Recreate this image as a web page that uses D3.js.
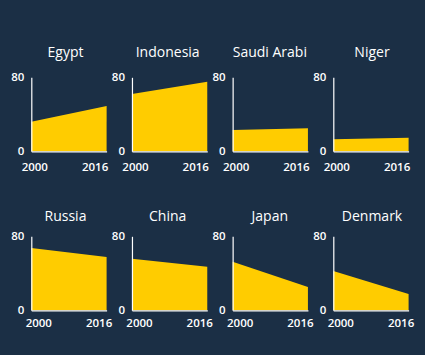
<!DOCTYPE html>
<html><head><meta charset="utf-8">
<script src="https://cdn.jsdelivr.net/npm/d3@7"></script>
<style>
html,body{margin:0;padding:0;background:#1b2f45;}
svg{display:block;}
</style></head>
<body>
<script>
const countries = ["Egypt","Indonesia","Saudi Arabi","Niger","Russia","China","Japan","Denmark"];
const years = [2000, 2016];
const values2000 = [32, 62, 23, 13, 67.3, 55.8, 52.6, 42.5];
const values2016 = [49, 75.3, 24.9, 14.7, 57.6, 47.2, 25.2, 17.6];
const yTicks = [0, 80];

const W = 425, H = 355;
const svg = d3.select("body").append("svg").attr("width", W).attr("height", H);
svg.append("rect").attr("width", W).attr("height", H).attr("fill", "#1b2f45");

const pw = 75.3, ph = 74;
const colX = d3.scaleLinear().domain([0, 3]).range([31.3, 333.3]);
const rowTop = [77.3, 236.3];
const titleX = d3.scaleLinear().domain([0, 3]).range([65.5, 372]);
const titleGap = [20, 15.6];
const xLabelDy = [20, 16.3];
const xLabelShift = [[3, -12], [7, -8]];

countries.forEach((name, i) => {
  const col = i % 4, row = Math.floor(i / 4);
  const g = svg.append("g").attr("transform", `translate(${colX(col)},${rowTop[row]})`);
  const x = d3.scaleLinear().domain(d3.extent(years)).range([0, pw]);
  const y = d3.scaleLinear().domain([0, 80]).range([ph, 0]);
  const data = years.map((yr, k) => ({yr, v: k === 0 ? values2000[i] : values2016[i]}));
  const area = d3.area().x(d => x(d.yr)).y0(y(0)).y1(d => y(d.v));
  g.append("path").datum(data).attr("d", area).attr("fill", "#ffcc00");

  const ya = g.append("g").call(d3.axisLeft(y).tickValues(yTicks).tickSize(0).tickSizeOuter(0).tickPadding(7).tickFormat(d3.format("d")));
  ya.select(".domain").attr("stroke", "#ffffff").attr("stroke-width", 1.2);
  ya.selectAll("text").attr("fill", "#ffffff").style("font-family", "'Open Sans', sans-serif").style("font-size", "11.5px").style("font-weight", "600");

  const xa = g.append("g").attr("transform", `translate(0,${ph})`)
    .call(d3.axisBottom(x).tickValues(years).tickSize(0).tickSizeOuter(0).tickPadding(0).tickFormat(d3.format("d")));
  xa.select(".domain").attr("stroke", "#ffffff").attr("stroke-width", 1.2);
  xa.selectAll("text")
    .attr("fill", "#ffffff")
    .attr("dy", null)
    .attr("y", xLabelDy[row])
    .attr("dx", (d, k) => xLabelShift[row][k])
    .style("font-family", "'Open Sans', sans-serif").style("font-size", "11.5px").style("font-weight", "600");

  svg.append("text")
    .attr("x", titleX(col)).attr("y", rowTop[row] - titleGap[row])
    .attr("text-anchor", "middle").attr("fill", "#ffffff")
    .style("font-family", "'Open Sans', sans-serif").style("font-size", "14px")
    .text(name);
});
</script>
</body></html>
